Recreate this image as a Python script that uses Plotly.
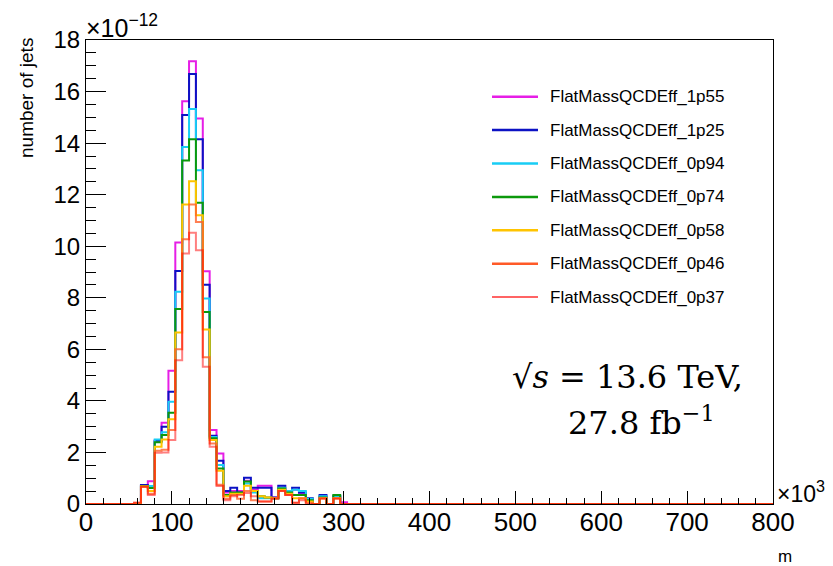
import plotly.graph_objects as go

# Bin left edges of the mass histogram (x in units of 10^3), bin width 8
bin_edges = [56, 64, 72, 80, 88, 96, 104, 112, 120, 128, 136, 144, 152, 160, 168,
             176, 184, 192, 200, 208, 216, 224, 232, 240, 248, 256, 264, 272, 280,
             288, 296, 304]
x_min, x_max = 0, 800

# Number of jets per bin, in units of 10^-12
eff_1p55 = [0.0, 0.72, 0.88, 2.45, 3.15, 5.17, 10.14, 15.62, 17.18, 14.95, 9.03, 2.87, 1.96,
            0.45, 0.5, 0.5, 0.9, 0.55, 0.71, 0.71, 0.25, 0.7, 0.45, 0.55, 0.4, 0.2, 0.0,
            0.3, 0.0, 0.3, 0.07]
eff_1p25 = [0.0, 0.74, 0.7, 2.45, 3.0, 4.35, 9.04, 15.09, 16.68, 14.15, 8.51, 2.65, 1.68,
            0.5, 0.63, 0.45, 1.02, 0.63, 0.63, 0.63, 0.25, 0.71, 0.45, 0.63, 0.45, 0.22, 0.0,
            0.35, 0.0, 0.3, 0.0]
eff_0p94 = [0.0, 0.7, 0.7, 2.5, 2.78, 3.97, 8.23, 13.85, 15.32, 12.95, 7.97, 2.6, 1.51,
            0.35, 0.4, 0.4, 0.8, 0.45, 0.22, 0.22, 0.22, 0.63, 0.5, 0.55, 0.5, 0.2, 0.0,
            0.3, 0.0, 0.3, 0.0]
eff_0p74 = [0.0, 0.7, 0.62, 2.4, 2.68, 3.54, 7.56, 13.33, 14.15, 11.69, 7.45, 2.55, 1.38,
            0.35, 0.45, 0.45, 0.87, 0.5, 0.3, 0.25, 0.22, 0.6, 0.45, 0.35, 0.35, 0.15, 0.0,
            0.25, 0.0, 0.35, 0.0]
eff_0p58 = [0.0, 0.68, 0.5, 2.22, 2.5, 3.29, 6.65, 11.62, 12.52, 11.2, 6.77, 2.48, 1.29,
            0.3, 0.4, 0.4, 0.71, 0.5, 0.3, 0.25, 0.22, 0.55, 0.4, 0.22, 0.22, 0.1, 0.0,
            0.22, 0.0, 0.22, 0.0]
eff_0p46 = [0.05, 0.68, 0.4, 2.07, 2.1, 2.87, 6.0, 10.27, 11.62, 10.94, 5.69, 2.35, 0.75,
            0.2, 0.35, 0.2, 0.5, 0.15, 0.1, 0.1, 0.22, 0.5, 0.35, 0.05, 0.22, 0.05, 0.0,
            0.22, 0.0, 0.22, 0.0]
eff_0p37 = [0.05, 0.66, 0.35, 1.99, 2.0, 2.48, 5.58, 9.72, 10.52, 9.84, 5.32, 2.22, 0.7,
            0.15, 0.3, 0.35, 0.43, 0.3, 0.1, 0.1, 0.2, 0.5, 0.35, 0.05, 0.15, 0.0, 0.0,
            0.2, 0.0, 0.2, 0.0]

series_names = ["FlatMassQCDEff_1p55", "FlatMassQCDEff_1p25", "FlatMassQCDEff_0p94",
                "FlatMassQCDEff_0p74", "FlatMassQCDEff_0p58", "FlatMassQCDEff_0p46",
                "FlatMassQCDEff_0p37"]
series_values = [eff_1p55, eff_1p25, eff_0p94, eff_0p74, eff_0p58, eff_0p46, eff_0p37]
series_colors = ["#e61ee6", "#0c12c4", "#18cdf5", "#0c990c", "#ffc400",
                 "rgba(255,95,40,0.8)", "rgba(255,0,0,0.5)"]
series_widths = [2, 2, 2, 2, 2, 2, 2]
legend_colors = ["#e61ee6", "#0c12c4", "#18cdf5", "#0c990c", "#ffc400", "#ff5a28", "#ff3030"]
legend_widths = [2.5, 2.5, 2.5, 2.5, 2.5, 2.5, 1.5]

fig = go.Figure()
for name, vals, col, w in zip(series_names, series_values, series_colors, series_widths):
    xs = [x_min] + bin_edges + [x_max]
    ys = [0.0] + vals + [0.0, 0.0]
    fig.add_trace(go.Scatter(x=xs, y=ys, mode="lines", name=name,
                             line=dict(color=col, width=w, shape="hv"),
                             showlegend=False, hoverinfo="skip"))

# page offset of the figure (default body margin) and plot-area geometry in page pixels
OFF = 8
FW, FH = 833 - OFF, 566 - OFF
L, R, T, B = 86, 773, 40, 504
W, H = R - L, B - T
def px(xp):
    return (xp - L) / W
def py(yp):
    return (B - yp) / H

shapes = []
annotations = []
leg_y0 = 96.7
leg_dy = 33.4
for i, (name, col, lw) in enumerate(zip(series_names, legend_colors, legend_widths)):
    yy = py(leg_y0 + i * leg_dy)
    shapes.append(dict(type="line", xref="paper", yref="paper",
                       x0=px(492), x1=px(538), y0=yy, y1=yy,
                       line=dict(color=col, width=lw)))
    annotations.append(dict(xref="paper", yref="paper", x=px(548), y=yy,
                            xanchor="left", yanchor="middle", showarrow=False,
                            text=name, font=dict(size=17, color="black")))

serif = "DejaVu Serif, Liberation Serif, serif"
annotations += [
    dict(xref="paper", yref="paper", x=px(627), y=py(377), xanchor="center", yanchor="middle",
         showarrow=False, text="√<i>s</i> = 13.6 TeV,", font=dict(size=32, family=serif, color="black")),
    dict(xref="paper", yref="paper", x=px(641), y=py(421), xanchor="center", yanchor="middle",
         showarrow=False, text="27.8 fb<sup>−1</sup>", font=dict(size=32, family=serif, color="black")),
    dict(xref="paper", yref="paper", x=px(84), y=py(44), xanchor="left", yanchor="bottom",
         showarrow=False, text="×10<sup>−12</sup>", font=dict(size=25, color="black")),
    dict(xref="paper", yref="paper", x=px(775), y=py(509), xanchor="left", yanchor="bottom",
         showarrow=False, text="×10<sup>3</sup>", font=dict(size=23, color="black")),
    dict(xref="paper", yref="paper", x=px(26), y=py(36), xanchor="center", yanchor="top",
         textangle=-90, showarrow=False, text="number of jets", font=dict(size=19, color="black")),
    dict(xref="paper", yref="paper", x=px(785), y=py(556), xanchor="center", yanchor="middle",
         showarrow=False, text="m", font=dict(size=17, color="black")),
]

fig.update_layout(
    width=FW, height=FH,
    margin=dict(l=L - OFF, r=FW + OFF - R, t=T - OFF, b=FH + OFF - B, pad=0),
    paper_bgcolor="white", plot_bgcolor="white",
    font=dict(family="Liberation Sans, Arial, Helvetica, sans-serif", color="black"),
    shapes=shapes, annotations=annotations,
    showlegend=False,
)
fig.update_xaxes(range=[x_min, x_max], dtick=100, tick0=0, ticks="inside", ticklen=13,
                 tickwidth=1, tickcolor="black", showline=True, linecolor="black", linewidth=1,
                 mirror=True, showgrid=False, zeroline=False, tickfont=dict(size=26),
                 ticklabelstandoff=-5,
                 minor=dict(dtick=20, ticks="inside", ticklen=6, tickcolor="black", showgrid=False))
fig.update_yaxes(range=[0, 18], dtick=2, tick0=0, ticks="inside", ticklen=20,
                 tickwidth=1, tickcolor="black", showline=True, linecolor="black", linewidth=1,
                 mirror=True, showgrid=False, zeroline=False, tickfont=dict(size=24),
                 minor=dict(dtick=0.5, ticks="inside", ticklen=10, tickcolor="black", showgrid=False))

fig.write_html("out.html")
